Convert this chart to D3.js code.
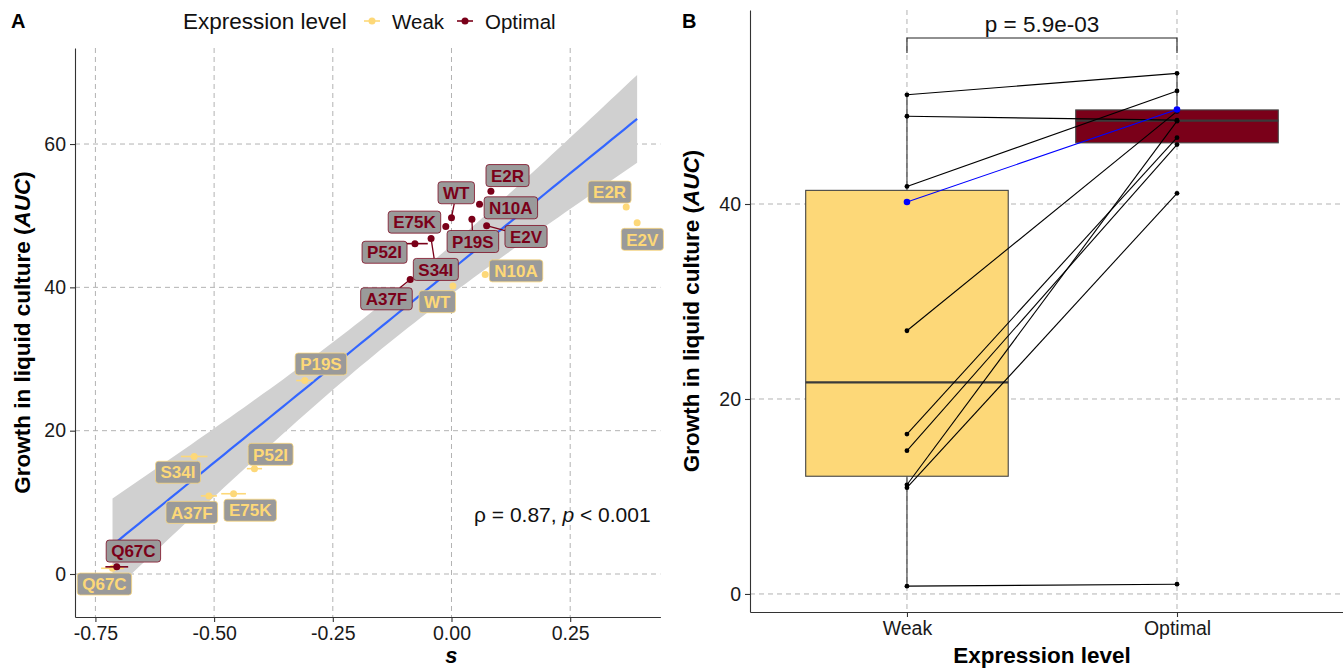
<!DOCTYPE html>
<html>
<head>
<meta charset="utf-8">
<script src="https://cdn.jsdelivr.net/npm/d3@7"></script>
<style>
    body { margin: 0; background: #fff; }
    svg { font-family: "Liberation Sans", Arial, Helvetica, sans-serif; }
</style>
</head>
<body>
<svg id="chart" width="1343" height="669"></svg>
<script>
var mutants = ['WT', 'E2R', 'E2V', 'N10A', 'P19S', 'S34I', 'A37F', 'E75K', 'P52I', 'Q67C'];

// weak expression: selection coefficient, its error, growth (AUC)
var weakS    = [0.003, 0.368, 0.391, 0.071, -0.309, -0.542, -0.511, -0.459, -0.415, -0.714];
var weakSErr = [0.004, 0.004, 0.004, 0.004, 0.018, 0.028, 0.017, 0.026, 0.016, 0.024];
var weakAUC  = [40.2, 51.2, 49.0, 41.8, 27.0, 16.4, 10.9, 11.2, 14.7, 0.8];

// optimal expression
var optS    = [0.000, 0.083, 0.074, 0.059, 0.043, -0.043, -0.087, -0.012, -0.077, -0.705];
var optSErr = [0.004, 0.004, 0.004, 0.004, 0.004, 0.005, 0.005, 0.005, 0.027, 0.024];
var optAUC  = [49.7, 53.4, 48.6, 51.6, 49.5, 46.8, 41.1, 48.5, 46.1, 1.0];

// repelled label anchors (data units)
var weakLabelS   = [-0.030, 0.333, 0.402, 0.136, -0.275, -0.576, -0.547, -0.424, -0.381, -0.731];
var weakLabelAUC = [38.0, 53.3, 46.7, 42.3, 29.3, 14.2, 8.6, 8.9, 16.7, -1.4];
var optLabelS    = [0.010, 0.118, 0.157, 0.125, 0.045, -0.033, -0.137, -0.078, -0.141, -0.670];
var optLabelAUC  = [53.2, 55.6, 47.1, 51.1, 46.4, 42.5, 38.4, 49.1, 44.9, 3.2];

var levels = ['Weak', 'Optimal'];
var sTicks = [-0.75, -0.5, -0.25, 0, 0.25];
var aucTicksA = [0, 20, 40, 60];
var aucTicksB = [0, 20, 40];
var pLabel = 'p = 5.9e-03';

var colWeak = '#FDD878',
    colOpt = '#7A0019',
    gridCol = '#b3b3b3';

var svg = d3.select('#chart');

// ---------- panel A ----------
var xA = d3.scaleLinear().domain([-0.793, 0.44]).range([75, 660.4]),
    yA = d3.scaleLinear().domain([-6.0, 73.4]).range([617, 48]);

var gA = svg.append('g');

gA.selectAll('.vgrid').data(sTicks).enter().append('line')
    .attr('x1', d => xA(d)).attr('x2', d => xA(d))
    .attr('y1', yA.range()[1]).attr('y2', yA.range()[0])
    .attr('stroke', gridCol).attr('stroke-dasharray', '5,4');
gA.selectAll('.hgrid').data(aucTicksA).enter().append('line')
    .attr('x1', xA.range()[0]).attr('x2', xA.range()[1])
    .attr('y1', d => yA(d)).attr('y2', d => yA(d))
    .attr('stroke', gridCol).attr('stroke-dasharray', '5,4');

// all points for the linear fit
var pts = [];
mutants.forEach(function (m, i) {
    pts.push({s: weakS[i], y: weakAUC[i]});
    pts.push({s: optS[i], y: optAUC[i]});
});
var n = pts.length,
    xbar = d3.mean(pts, d => d.s),
    ybar = d3.mean(pts, d => d.y),
    sxx = d3.sum(pts, d => (d.s - xbar) * (d.s - xbar)),
    sxy = d3.sum(pts, d => (d.s - xbar) * (d.y - ybar)),
    slope = sxy / sxx,
    icpt = ybar - slope * xbar,
    rss = d3.sum(pts, d => Math.pow(d.y - (icpt + slope * d.s), 2)),
    sigma = Math.sqrt(rss / (n - 2)),
    tq = 2.100922;

var sExt = d3.extent(pts, d => d.s);
var fit = d3.range(0, 81).map(function (k) {
    var s = sExt[0] + (sExt[1] - sExt[0]) * k / 80,
        se = sigma * Math.sqrt(1 / n + (s - xbar) * (s - xbar) / sxx),
        f = icpt + slope * s;
    return {s: s, f: f, lo: f - tq * se, hi: f + tq * se};
});

gA.append('path')
    .datum(fit)
    .attr('d', d3.area().x(d => xA(d.s)).y0(d => yA(d.lo)).y1(d => yA(d.hi)))
    .attr('fill', '#d0d0d0');
gA.append('path')
    .datum(fit)
    .attr('d', d3.line().x(d => xA(d.s)).y(d => yA(d.f)))
    .attr('fill', 'none').attr('stroke', '#3366FF').attr('stroke-width', 2.2);

// points with horizontal error bars
function addPoints(sArr, errArr, aucArr, color) {
    mutants.forEach(function (m, i) {
        gA.append('line')
            .attr('x1', xA(sArr[i] - errArr[i])).attr('x2', xA(sArr[i] + errArr[i]))
            .attr('y1', yA(aucArr[i])).attr('y2', yA(aucArr[i]))
            .attr('stroke', color).attr('stroke-width', 1.6);
        gA.append('circle')
            .attr('cx', xA(sArr[i])).attr('cy', yA(aucArr[i]))
            .attr('r', 3.5).attr('fill', color);
    });
}
addPoints(weakS, weakSErr, weakAUC, colWeak);
addPoints(optS, optSErr, optAUC, colOpt);

// labels with segments, ggrepel style
function addLabels(sArr, aucArr, lsArr, laArr, color) {
    mutants.forEach(function (m, i) {
        var cx = xA(lsArr[i]), cy = yA(laArr[i]),
            px = xA(sArr[i]), py = yA(aucArr[i]);
        var g = gA.append('g');
        var seg = g.append('line');
        var rect = g.append('rect');
        var txt = g.append('text')
            .attr('x', cx).attr('y', cy + 6.2)
            .attr('text-anchor', 'middle')
            .attr('font-size', 17).attr('font-weight', 'bold')
            .attr('fill', color)
            .text(m);
        var w = txt.node().getComputedTextLength() + 10, h = 22;
        rect.attr('x', cx - w / 2).attr('y', cy - h / 2)
            .attr('width', w).attr('height', h)
            .attr('rx', 3)
            .attr('fill', '#9a9a9a')
            .attr('stroke', color).attr('stroke-opacity', 0.75);
        var dx = px - cx, dy = py - cy,
            t = Math.min(dx ? (w / 2) / Math.abs(dx) : Infinity, dy ? (h / 2) / Math.abs(dy) : Infinity);
        if (t < 1 && Math.sqrt(dx * dx + dy * dy) * (1 - t) > 8.5) {
            seg.attr('x1', cx + dx * t).attr('y1', cy + dy * t)
                .attr('x2', px).attr('y2', py)
                .attr('stroke', color).attr('stroke-width', 1.3);
        }
    });
}
addLabels(weakS, weakAUC, weakLabelS, weakLabelAUC, colWeak);
addLabels(optS, optAUC, optLabelS, optLabelAUC, colOpt);

// axes
var axAx = gA.append('g')
    .attr('transform', 'translate(0,' + yA.range()[0] + ')')
    .call(d3.axisBottom(xA).tickValues(sTicks).tickSize(5).tickPadding(4)
        .tickFormat(d => d.toFixed(2)).tickSizeOuter(0));
var ayAx = gA.append('g')
    .attr('transform', 'translate(' + xA.range()[0] + ',0)')
    .call(d3.axisLeft(yA).tickValues(aucTicksA).tickSize(5).tickPadding(4).tickSizeOuter(0));
[axAx, ayAx].forEach(function (a) {
    a.selectAll('text').attr('font-size', 19.5).attr('fill', '#1a1a1a').attr('font-family', null);
    a.selectAll('line, path').attr('stroke', '#333').attr('stroke-width', 1.1);
});

svg.append('text')
    .attr('x', xA(0)).attr('y', 663)
    .attr('text-anchor', 'middle')
    .attr('font-size', 22).attr('font-weight', 'bold').attr('font-style', 'italic')
    .text('s');

function yTitle(x, y) {
    var t = svg.append('text')
        .attr('transform', 'translate(' + x + ',' + y + ') rotate(-90)')
        .attr('text-anchor', 'middle')
        .attr('font-size', 22.5).attr('font-weight', 'bold');
    t.append('tspan').text('Growth in liquid culture (');
    t.append('tspan').attr('font-style', 'italic').text('AUC');
    t.append('tspan').text(')');
}
yTitle(30, (yA.range()[0] + yA.range()[1]) / 2);

var rho = svg.append('text')
    .attr('x', 474).attr('y', 522)
    .attr('font-size', 21).attr('fill', '#111');
rho.append('tspan').text('\u03c1 = 0.87, ');
rho.append('tspan').attr('font-style', 'italic').text('p');
rho.append('tspan').text(' < 0.001');

// legend
var leg = svg.append('g');
leg.append('text').attr('x', 183).attr('y', 29).attr('font-size', 22.5).attr('fill', '#111')
    .text('Expression level');
[{c: colWeak, x: 372, lab: 'Weak'}, {c: colOpt, x: 465, lab: 'Optimal'}].forEach(function (k) {
    leg.append('line').attr('x1', k.x - 8).attr('x2', k.x + 8).attr('y1', 21).attr('y2', 21)
        .attr('stroke', k.c).attr('stroke-width', 1.6);
    leg.append('circle').attr('cx', k.x).attr('cy', 21).attr('r', 3.5).attr('fill', k.c);
    leg.append('text').attr('x', k.x + 20).attr('y', 29).attr('font-size', 20.5).attr('fill', '#111')
        .text(k.lab);
});

svg.append('text').attr('x', 11).attr('y', 28).attr('font-size', 20).attr('font-weight', 'bold').text('A');
svg.append('text').attr('x', 682).attr('y', 28).attr('font-size', 20).attr('font-weight', 'bold').text('B');

// ---------- panel B ----------
var xB = d3.scalePoint().domain(levels).range([750, 1343]).padding(0.598).align(0.486),
    yB = d3.scaleLinear().domain([-1.85, 59.9]).range([612, 10]);
var gB = svg.append('g');

gB.selectAll('.vgrid').data(levels).enter().append('line')
    .attr('x1', d => xB(d)).attr('x2', d => xB(d))
    .attr('y1', yB.range()[1]).attr('y2', yB.range()[0])
    .attr('stroke', gridCol).attr('stroke-dasharray', '5,4');
gB.selectAll('.hgrid').data(aucTicksB).enter().append('line')
    .attr('x1', xB.range()[0]).attr('x2', xB.range()[1])
    .attr('y1', d => yB(d)).attr('y2', d => yB(d))
    .attr('stroke', gridCol).attr('stroke-dasharray', '5,4');

var boxW = xB.step() * 0.75;
[{lvl: 'Weak', v: weakAUC, c: colWeak}, {lvl: 'Optimal', v: optAUC, c: colOpt}].forEach(function (b) {
    var v = b.v.slice().sort(d3.ascending),
        q1 = d3.quantile(v, 0.25), med = d3.quantile(v, 0.5), q3 = d3.quantile(v, 0.75),
        iqr = q3 - q1,
        lo = d3.min(v.filter(d => d >= q1 - 1.5 * iqr)),
        hi = d3.max(v.filter(d => d <= q3 + 1.5 * iqr)),
        cx = xB(b.lvl);
    gB.append('line').attr('x1', cx).attr('x2', cx).attr('y1', yB(lo)).attr('y2', yB(q1))
        .attr('stroke', '#333').attr('stroke-width', 1.1);
    gB.append('line').attr('x1', cx).attr('x2', cx).attr('y1', yB(q3)).attr('y2', yB(hi))
        .attr('stroke', '#333').attr('stroke-width', 1.1);
    gB.append('rect')
        .attr('x', cx - boxW / 2).attr('y', yB(q3))
        .attr('width', boxW).attr('height', yB(q1) - yB(q3))
        .attr('fill', b.c).attr('stroke', '#444').attr('stroke-width', 1.1);
    gB.append('line').attr('x1', cx - boxW / 2).attr('x2', cx + boxW / 2)
        .attr('y1', yB(med)).attr('y2', yB(med))
        .attr('stroke', '#3a3a3a').attr('stroke-width', 2.2);
});

// paired lines, WT highlighted in blue on top
var order = d3.range(mutants.length).filter(i => mutants[i] !== 'WT').concat([mutants.indexOf('WT')]);
order.forEach(function (i) {
    var c = mutants[i] === 'WT' ? '#0000FF' : '#000';
    gB.append('line')
        .attr('x1', xB('Weak')).attr('y1', yB(weakAUC[i]))
        .attr('x2', xB('Optimal')).attr('y2', yB(optAUC[i]))
        .attr('stroke', c).attr('stroke-width', 1.1);
    [['Weak', weakAUC[i]], ['Optimal', optAUC[i]]].forEach(function (p) {
        gB.append('circle')
            .attr('cx', xB(p[0])).attr('cy', yB(p[1]))
            .attr('r', mutants[i] === 'WT' ? 3.3 : 2.4)
            .attr('fill', c);
    });
});

// comparison bracket
var bTop = 38, bTick = 15;
gB.append('path')
    .attr('d', 'M' + xB('Weak') + ',' + (bTop + bTick) + 'V' + bTop + 'H' + xB('Optimal') + 'V' + (bTop + bTick))
    .attr('fill', 'none').attr('stroke', '#222').attr('stroke-width', 1.1);
gB.append('text')
    .attr('x', (xB('Weak') + xB('Optimal')) / 2).attr('y', 32)
    .attr('text-anchor', 'middle').attr('font-size', 22.5).attr('fill', '#111')
    .text(pLabel);

var bxAx = gB.append('g')
    .attr('transform', 'translate(0,' + yB.range()[0] + ')')
    .call(d3.axisBottom(xB).tickSize(5).tickPadding(4).tickSizeOuter(0));
var byAx = gB.append('g')
    .attr('transform', 'translate(' + xB.range()[0] + ',0)')
    .call(d3.axisLeft(yB).tickValues(aucTicksB).tickSize(5).tickPadding(4).tickSizeOuter(0));
[bxAx, byAx].forEach(function (a) {
    a.selectAll('text').attr('font-size', 19.5).attr('fill', '#1a1a1a').attr('font-family', null);
    a.selectAll('line, path').attr('stroke', '#333').attr('stroke-width', 1.1);
});

svg.append('text')
    .attr('x', (xB('Weak') + xB('Optimal')) / 2).attr('y', 663)
    .attr('text-anchor', 'middle')
    .attr('font-size', 22.5).attr('font-weight', 'bold')
    .text('Expression level');
yTitle(699, (yB.range()[0] + yB.range()[1]) / 2);
</script>
</body>
</html>
